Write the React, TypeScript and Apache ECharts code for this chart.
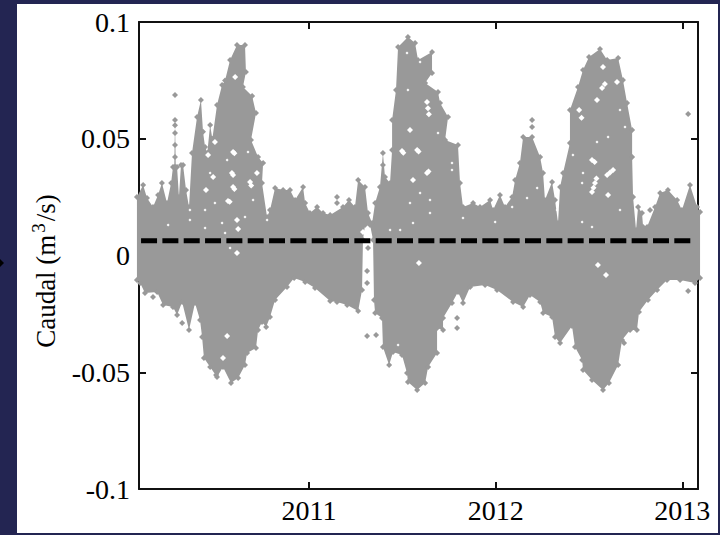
import React, { useEffect, useRef } from "react";
import * as echarts from "echarts";

const xTicks = [2011, 2012, 2013];
const media = 0.0063;
const mediaYears = [2010.1, 2013.047];

const upper: number[][] = [
  [2010.078,.0251],[2010.111,.0302],[2010.132,.0246],[2010.164,.0208],[2010.191,.0259],[2010.212,.031],[2010.239,.0225],[2010.261,.031],[2010.271,.0379],[2010.278,.0379],[2010.282,.058],[2010.286,.0379],[2010.293,.0379],[2010.303,.0251],[2010.314,.0388],[2010.325,.0388],[2010.341,.0281],[2010.357,.0208],[2010.373,.0439],[2010.4,.0593],[2010.421,.0666],[2010.432,.0530],[2010.443,.0465],[2010.455,.0440],[2010.47,.0559],[2010.482,.0500],[2010.507,.0645],[2010.534,.073],[2010.55,.0750],[2010.577,.0837],[2010.614,.0902],[2010.657,.0902],[2010.662,.0786],[2010.646,.0722],[2010.695,.0683],[2010.716,.061],[2010.689,.0495],[2010.727,.0422],[2010.754,.0396],[2010.748,.031],[2010.775,.0165],[2010.791,.0195],[2010.818,.0289],[2010.861,.0281],[2010.898,.0281],[2010.925,.0238],[2010.968,.0293],[2010.979,.0225],
  [2011.005,.0182],[2011.043,.0208],[2011.075,.0182],[2011.113,.0173],[2011.182,.0208],[2011.214,.0238],[2011.246,.0208],[2011.263,.0323],[2011.3,.0293],[2011.316,.0182],[2011.338,.0139],[2011.354,.0225],[2011.38,.0293],[2011.396,.0439],[2011.407,.0336],[2011.434,.031],[2011.445,.0452],[2011.445,.058],[2011.466,.0709],[2011.477,.0893],[2011.53,.0936],[2011.568,.091],[2011.584,.0837],[2011.659,.0872],[2011.659,.0782],[2011.622,.0739],[2011.691,.07],[2011.702,.0653],[2011.745,.0593],[2011.729,.0495],[2011.798,.0473],[2011.809,.031],[2011.825,.0208],[2011.879,.0225],[2011.916,.0208],[2011.97,.0238],[2011.986,.0195],
  [2012.023,.0259],[2012.05,.0208],[2012.088,.0251],[2012.104,.0323],[2012.13,.0396],[2012.147,.0507],[2012.195,.0507],[2012.238,.0422],[2012.254,.0353],[2012.264,.0238],[2012.302,.0315],[2012.318,.0238],[2012.334,.0139],[2012.345,.0293],[2012.361,.0353],[2012.398,.0482],[2012.398,.0623],[2012.441,.0722],[2012.468,.0794],[2012.5,.085],[2012.559,.0884],[2012.597,.0837],[2012.656,.0846],[2012.682,.0752],[2012.704,.0653],[2012.731,.0537],[2012.731,.0422],[2012.736,.0251],[2012.752,.0109],[2012.763,.0208],[2012.784,.0182],[2012.79,.0122],[2012.811,.0122],[2012.854,.0208],[2012.881,.0268],[2012.923,.0281],[2012.972,.0238],[2012.998,.0195],[2013.041,.0302],[2013.079,.0208],[2013.095,.0186],
];

const lower: number[][] = [
  [2010.078,-.0105],[2010.095,-.0118],[2010.121,-.0161],[2010.186,-.0156],[2010.218,-.0212],[2010.271,-.0221],[2010.293,-.0255],[2010.32,-.0199],[2010.357,-.0319],[2010.389,-.0203],[2010.416,-.0276],[2010.427,-.0349],[2010.437,-.0439],[2010.47,-.0478],[2010.507,-.052],[2010.539,-.0478],[2010.582,-.0546],[2010.62,-.0525],[2010.657,-.0469],[2010.668,-.0418],[2010.716,-.0396],[2010.727,-.0319],[2010.748,-.0285],[2010.77,-.0306],[2010.791,-.0263],[2010.818,-.0191],[2010.882,-.0135],[2010.92,-.0096],[2010.979,-.0113],
  [2011.032,-.0139],[2011.113,-.0195],[2011.15,-.0199],[2011.204,-.0212],[2011.263,-.0238],[2011.284,-.0148],[2011.289,.0066],[2011.3,.0131],[2011.327,.0131],[2011.343,.0066],[2011.348,-.0191],[2011.354,-.0246],[2011.391,-.0268],[2011.396,-.0392],[2011.429,-.0469],[2011.45,-.0413],[2011.498,-.0426],[2011.525,-.0503],[2011.53,-.0542],[2011.579,-.0576],[2011.622,-.0546],[2011.638,-.0478],[2011.686,-.0418],[2011.686,-.031],[2011.718,-.0319],[2011.718,-.0268],[2011.766,-.0203],[2011.798,-.0156],[2011.825,-.0203],[2011.863,-.0135],[2011.943,-.0126],
  [2012.007,-.0148],[2012.093,-.0199],[2012.147,-.0221],[2012.184,-.0169],[2012.238,-.0199],[2012.254,-.0246],[2012.302,-.0263],[2012.318,-.0349],[2012.345,-.0375],[2012.409,-.0302],[2012.425,-.0392],[2012.463,-.0448],[2012.468,-.049],[2012.516,-.0533],[2012.575,-.0576],[2012.607,-.0546],[2012.656,-.0469],[2012.677,-.0362],[2012.72,-.0319],[2012.757,-.0319],[2012.768,-.0242],[2012.816,-.0191],[2012.865,-.0148],[2012.918,-.0105],[2012.988,-.0105],[2013.068,-.0118],[2013.095,-.0096],
];

const isolated: number[][] = [
  [2010.282,.0687],[2010.282,.0558],[2010.282,.0525],[2010.282,.0473],[2010.282,.0422],[2011.15,.0251],[2011.15,.0225],[2011.396,.0388],[2013.031,.0606],[2012.827,.0195],[2012.195,.058],[2012.195,.055],
  [2010.164,-.0178],[2010.32,-.0289],[2010.502,-.0512],[2011.311,-.0066],[2011.311,-.0118],[2011.311,-.0345],[2011.359,-.034],[2011.793,-.0268],[2011.793,-.031],[2011.316,.0032],[2013.031,-.0152],[2012.688,-.0375],
];

const gapsLarge: number[][] = [
  [2010.593,.0443],[2010.6,.0438],[2010.587,.0353],[2010.593,.0345],[2010.593,.0293],[2010.6,.0285],[2010.566,.0233],[2010.575,.0230],[2010.614,.0152],[2010.62,.0113],[2010.614,.0011],[2010.721,.0353],[2010.486,.0336],[2010.496,.0486],[2010.459,.043],[2010.448,.0281],[2010.604,.0764],[2010.684,.0315],[2010.690,.0300],
  [2011.632,.0657],[2011.637,.0631],[2011.642,.0605],[2011.541,.0537],[2011.498,.0448],[2011.505,.0440],[2011.579,.0452],[2011.587,.0445],[2011.557,.0323],[2011.632,.0353],[2011.640,.0360],[2011.289,.0101],
  [2012.532,.031],[2012.516,.0272],[2012.54,.0330],[2012.524,.0290],[2012.629,.0366],[2012.597,.0345],[2012.613,.0355],[2012.516,.0409],[2012.53,.0400],[2012.602,.0259],[2012.57,.0717],[2012.585,.0735],[2012.65,.0743],[2012.575,.0807],[2012.543,.0666],[2012.447,.0623],[2012.46,.0590],
  [2010.561,-.0345],[2010.539,-.0439],[2011.589,-.0032],[2012.548,-.0041],[2012.591,-.0084],
];

const gapsSmall: number[][] = [
  [2010.443,.0195],[2010.362,.0195],[2010.362,.0152],[2010.443,.0118],[2010.245,.0131],[2010.534,.0139],[2010.55,.0096],[2010.577,.0032],[2010.496,.0225],[2010.47,.0353],[2010.673,.0443],[2010.561,.0409],[2010.657,.0165],[2010.7,.0238],[2010.775,.0152],
  [2011.434,.0109],[2011.488,.0109],[2011.541,.0225],[2011.595,.0268],[2011.648,.0238],[2011.648,.0182],[2011.557,.0139],[2011.766,.0396],[2011.766,.0366],[2011.691,.0525],[2011.525,.0867],[2011.595,.0829],[2011.53,.0709],[2011.825,.0161],[2011.997,.0143],[2011.477,-.0383],
  [2012.088,.0208],[2012.168,.0246],[2012.222,.0289],[2012.463,.0143],[2012.516,.0122],[2012.666,.0195],[2012.693,.055],[2012.666,.0623],[2012.414,.043],[2012.543,.0486],[2012.602,.0507],[2012.468,.0353],[2012.463,.031],[2012.329,.0195],
];

const GREY = "#999999";
const INK = "#111111";
const SERIF = "'Liberation Serif', 'Times New Roman', serif";

export default function App() {
  const ref = useRef<HTMLDivElement>(null);
  useEffect(() => {
    document.body.style.margin = "0";
    const chart = echarts.init(ref.current!, null, { renderer: "svg" });
    const outline = [...upper, ...[...lower].reverse()];
    const line = { show: true, onZero: false, lineStyle: { color: INK, width: 2 } };
    const xBase = { type: "value", min: 2010.089, max: 2013.084, splitLine: { show: false }, axisLine: line };
    const yBase = { type: "value", min: -0.1, max: 0.1, interval: 0.05, splitLine: { show: false }, axisLine: line };
    const tick = { show: true, inside: true, length: 7, lineStyle: { color: INK, width: 2 } };
    chart.setOption({
      animation: false,
      backgroundColor: "transparent",
      grid: { left: 139, top: 22, width: 559, height: 467, containLabel: false },
      xAxis: [
        { ...xBase, position: "bottom",
          axisTick: { ...tick, customValues: xTicks },
          axisLabel: { customValues: xTicks, formatter: (v: number) => String(v), margin: 7, color: "#000", fontFamily: SERIF, fontSize: 28 } },
        { ...xBase, position: "top", axisTick: { ...tick, customValues: xTicks }, axisLabel: { show: false } },
      ],
      yAxis: [
        { ...yBase, position: "left", axisTick: tick,
          axisLabel: { margin: 9, color: "#000", fontFamily: SERIF, fontSize: 28 } },
        { ...yBase, position: "right", axisTick: tick, axisLabel: { show: false } },
      ],
      graphic: [
        { type: "polygon", shape: { points: [[-4, 263], [4, 255], [12, 263], [4, 271]] }, x: -8, style: { fill: "#000" } },
        { type: "text", x: 46, y: 271, rotation: Math.PI / 2, style: {
            text: "Caudal (m{sup|3}/s)", fill: "#000", font: `27px ${SERIF}`, align: "center", verticalAlign: "middle",
            rich: { sup: { fontSize: 19, fontFamily: SERIF, fill: "#000", padding: [0, 2, 16, 2] } } } },
      ],
      series: [
        { type: "custom", name: "Envolvente", silent: true, data: [[2011, 0]], z: 2,
          renderItem: (_p: any, api: any) => ({
            type: "polygon",
            shape: { points: outline.map((d) => api.coord(d)) },
            style: { fill: GREY },
          }) },
        { type: "scatter", name: "Caudal", clip: false, silent: true, symbol: "diamond", symbolSize: 6, z: 3,
          itemStyle: { color: GREY, opacity: 1 }, data: [...upper, ...lower, ...isolated] },
        { type: "scatter", name: "Huecos", clip: false, silent: true, symbol: "diamond", symbolSize: 6, z: 4,
          itemStyle: { color: "#fff", opacity: 1 }, data: gapsLarge },
        { type: "scatter", name: "Huecos menores", clip: false, silent: true, symbol: "diamond", symbolSize: 3, z: 4,
          itemStyle: { color: "#fff", opacity: 1 }, data: gapsSmall },
        { type: "line", name: "Media", silent: true, symbol: "none", z: 5,
          lineStyle: { color: "#000", width: 5, type: [16, 5.33] },
          data: mediaYears.map((y) => [y, media]) },
      ],
    });
    return () => chart.dispose();
  }, []);
  return (
    <div style={{ position: "absolute", left: 0, top: 0, width: 720, height: 535, background: "#232552", overflow: "hidden" }}>
      <div style={{ position: "absolute", left: 17, top: 4, width: 701, height: 529, background: "#fff" }} />
      <div ref={ref} style={{ position: "absolute", left: 0, top: 0, width: 720, height: 535 }} />
    </div>
  );
}
